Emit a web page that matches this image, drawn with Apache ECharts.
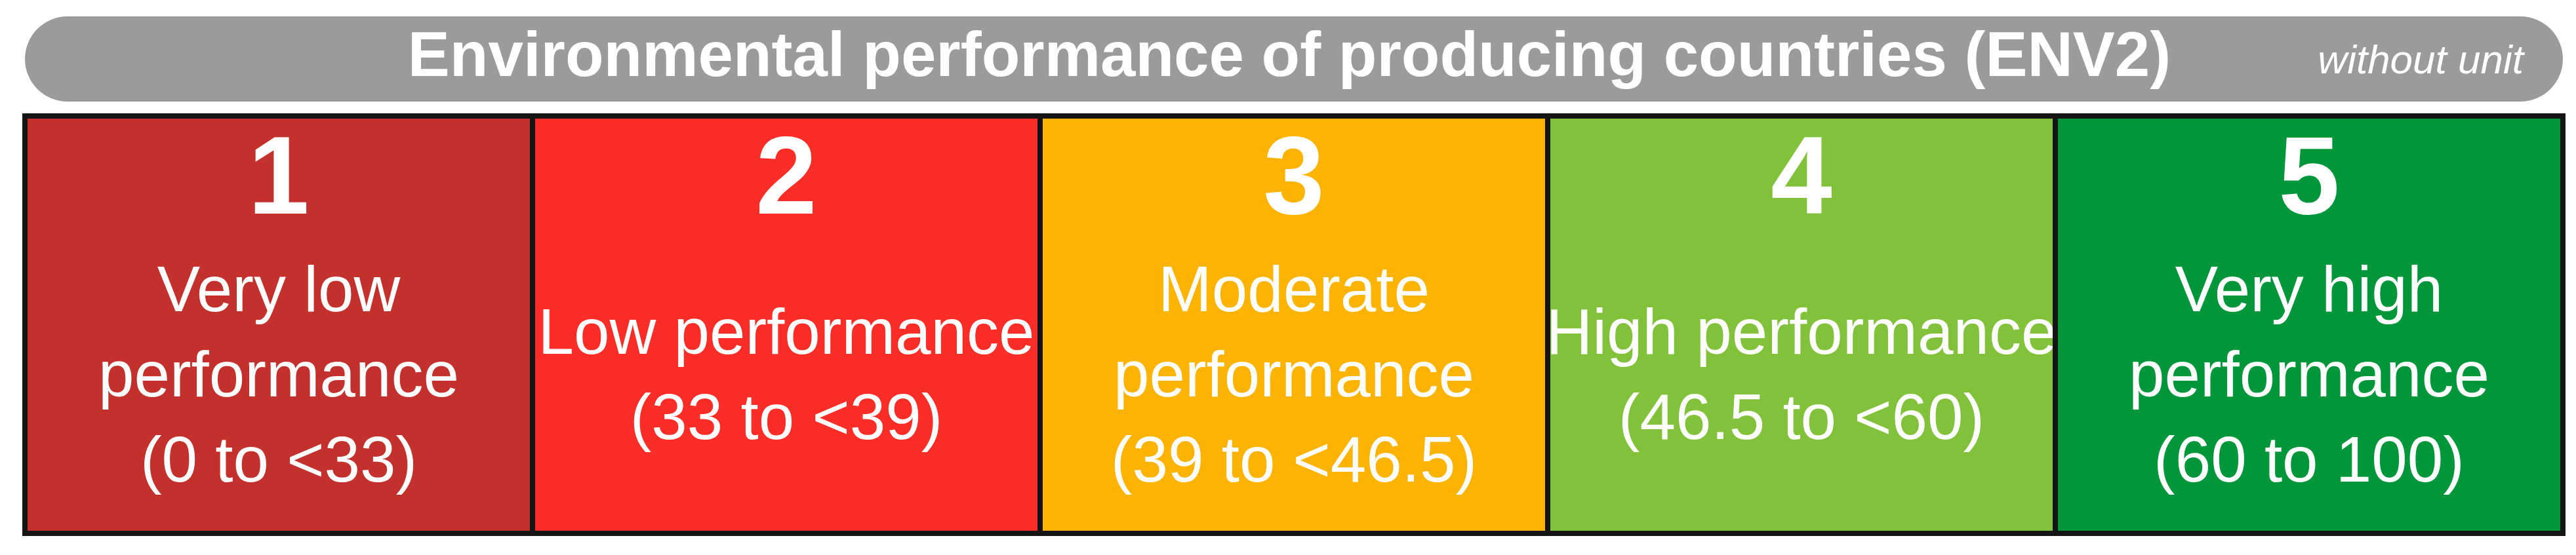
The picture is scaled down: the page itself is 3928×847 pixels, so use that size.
<!DOCTYPE html>
<html><head><meta charset="utf-8">
<script src="https://cdn.jsdelivr.net/npm/echarts@6/dist/echarts.min.js"></script>
<style>html,body{margin:0;padding:0;background:#fff}#main{width:3928px;height:847px}</style>
</head><body><div id="main"></div>
<script>
// classes of ENV2
var classNumbers = ['1', '2', '3', '4', '5'];
var classNames = [
    'Very low\nperformance\n(0 to <33)',
    'Low performance\n(33 to <39)',
    'Moderate\nperformance\n(39 to <46.5)',
    'High performance\n(46.5 to <60)',
    'Very high\nperformance\n(60 to 100)'
];
var classColors = ['#c4302b', '#fc2d26', '#fdb302', '#82c23a', '#01963a'];
var titleText = 'Environmental performance of producing countries (ENV2)';
var unitText = 'without unit';

var chart = echarts.init(document.getElementById('main'));

var seriesData = classNumbers.map(function (n, i) { return [i]; });

chart.setOption({
    animation: false,
    grid: {left: 38, right: 20, top: 177, bottom: 33},
    xAxis: {type: 'value', min: 0, max: 5, show: false},
    yAxis: {type: 'value', min: 0, max: 1, show: false},
    graphic: [
        {type: 'rect', shape: {x: 38, y: 25, width: 3870, height: 130, r: 65}, style: {fill: '#9b9b9b'}},
        {type: 'text', x: 1966, y: 90, style: {text: titleText, fill: '#fff', font: 'bold 96px "Liberation Sans", Arial',
            textAlign: 'center', textVerticalAlign: 'middle'}},
        {type: 'text', x: 3848, y: 95, style: {text: unitText, fill: '#fff', font: 'italic 62px "Liberation Sans Narrow", "Liberation Sans"',
            textAlign: 'right', textVerticalAlign: 'middle'}}
    ],
    series: [{
        type: 'custom',
        data: seriesData,
        renderItem: function (params, api) {
            var i = api.value(0);
            var p0 = api.coord([i, 1]);
            var p1 = api.coord([i + 1, 0]);
            var cx = (p0[0] + p1[0]) / 2;
            return {
                type: 'group',
                children: [
                    {type: 'rect', shape: {x: p0[0], y: p0[1], width: p1[0] - p0[0], height: p1[1] - p0[1]},
                        style: {fill: classColors[i], stroke: '#141414', lineWidth: 8}},
                    {type: 'text', x: cx, y: 280, style: {text: classNumbers[i], fill: '#fff',
                        font: 'bold 168px "Liberation Sans", Arial', textAlign: 'center', textVerticalAlign: 'middle'}},
                    {type: 'text', x: cx, y: 578, style: {text: classNames[i], fill: '#fff', lineHeight: 130,
                        font: '98px "Liberation Sans Narrow", "Liberation Sans"', textAlign: 'center', textVerticalAlign: 'middle'}}
                ]
            };
        }
    }]
});
</script>
</body></html>
